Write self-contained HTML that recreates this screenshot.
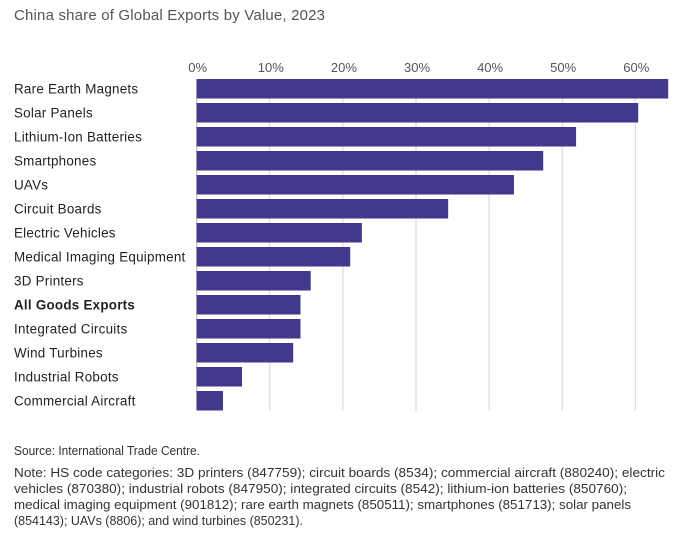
<!DOCTYPE html>
<html><head><meta charset="utf-8"><style>
html,body{margin:0;padding:0;background:#fff;}
svg{display:block;font-family:"Liberation Sans",sans-serif;}
</style></head><body>
<svg id="chart" width="685" height="541">
<text x="14" y="20" font-size="15" fill="#555" textLength="311">China share of Global Exports by Value, 2023</text>
<g id="grid"></g><g id="bars"></g><g id="labels"></g><g id="ticks"></g>
<g font-size="12.5" fill="#333">
<text x="14" y="455" textLength="186" lengthAdjust="spacingAndGlyphs">Source: International Trade Centre.</text>
<text x="14" y="477" textLength="651" lengthAdjust="spacingAndGlyphs">Note: HS code categories: 3D printers (847759); circuit boards (8534); commercial aircraft (880240); electric</text>
<text x="14" y="493" textLength="613" lengthAdjust="spacingAndGlyphs">vehicles (870380); industrial robots (847950); integrated circuits (8542); lithium-ion batteries (850760);</text>
<text x="14" y="509" textLength="617" lengthAdjust="spacingAndGlyphs">medical imaging equipment (901812); rare earth magnets (850511); smartphones (851713); solar panels</text>
<text x="14" y="525" textLength="289" lengthAdjust="spacingAndGlyphs">(854143); UAVs (8806); and wind turbines (850231).</text>
</g>
</svg>
<script>
const categories = ["Rare Earth Magnets","Solar Panels","Lithium-Ion Batteries","Smartphones","UAVs","Circuit Boards","Electric Vehicles","Medical Imaging Equipment","3D Printers","All Goods Exports","Integrated Circuits","Wind Turbines","Industrial Robots","Commercial Aircraft"];
const values = [64.5,60.4,51.9,47.4,43.4,34.4,22.6,21.0,15.6,14.2,14.2,13.2,6.2,3.6];
const ticks = [0,10,20,30,40,50,60];
const tickLabels = ["0%","10%","20%","30%","40%","50%","60%"];
const NS="http://www.w3.org/2000/svg";
const x0=196.7, pxPer=7.31, plotTop=79, pitch=24, bh=19.5;
const xs=v=>x0+v*pxPer;
const ys=i=>plotTop+i*pitch;
function mk(t,a,p){const e=document.createElementNS(NS,t);for(const k in a)e.setAttribute(k,a[k]);p.appendChild(e);return e;}
const grid=document.getElementById('grid'),bars=document.getElementById('bars'),labels=document.getElementById('labels'),tk=document.getElementById('ticks');
const plotBottom=ys(categories.length-1)+bh;
ticks.forEach((t,i)=>{
  const l=mk('line',{x1:xs(t),x2:xs(t),y1:plotTop,y2:plotBottom,stroke:t===0?'#aaa':'#d0d0d0','stroke-width':1},grid);
  
  
  const tx=mk('text',{x:xs(t)+1,y:72,'font-size':13,fill:'#555','text-anchor':'middle'},tk);
  tx.textContent=tickLabels[i];
  
  
});
categories.forEach((c,i)=>{
  const r=mk('rect',{x:x0,y:ys(i),width:xs(values[i])-x0,height:bh,fill:'#42398c'},bars);
  
  
  const t=mk('text',{x:14,y:ys(i)+bh/2+4.5,'font-size':13.4,'letter-spacing':0.25,fill:'#222','font-weight':c==="All Goods Exports"?'bold':'normal'},labels);
  t.textContent=c;
  
  
});
</script>
</body></html>
